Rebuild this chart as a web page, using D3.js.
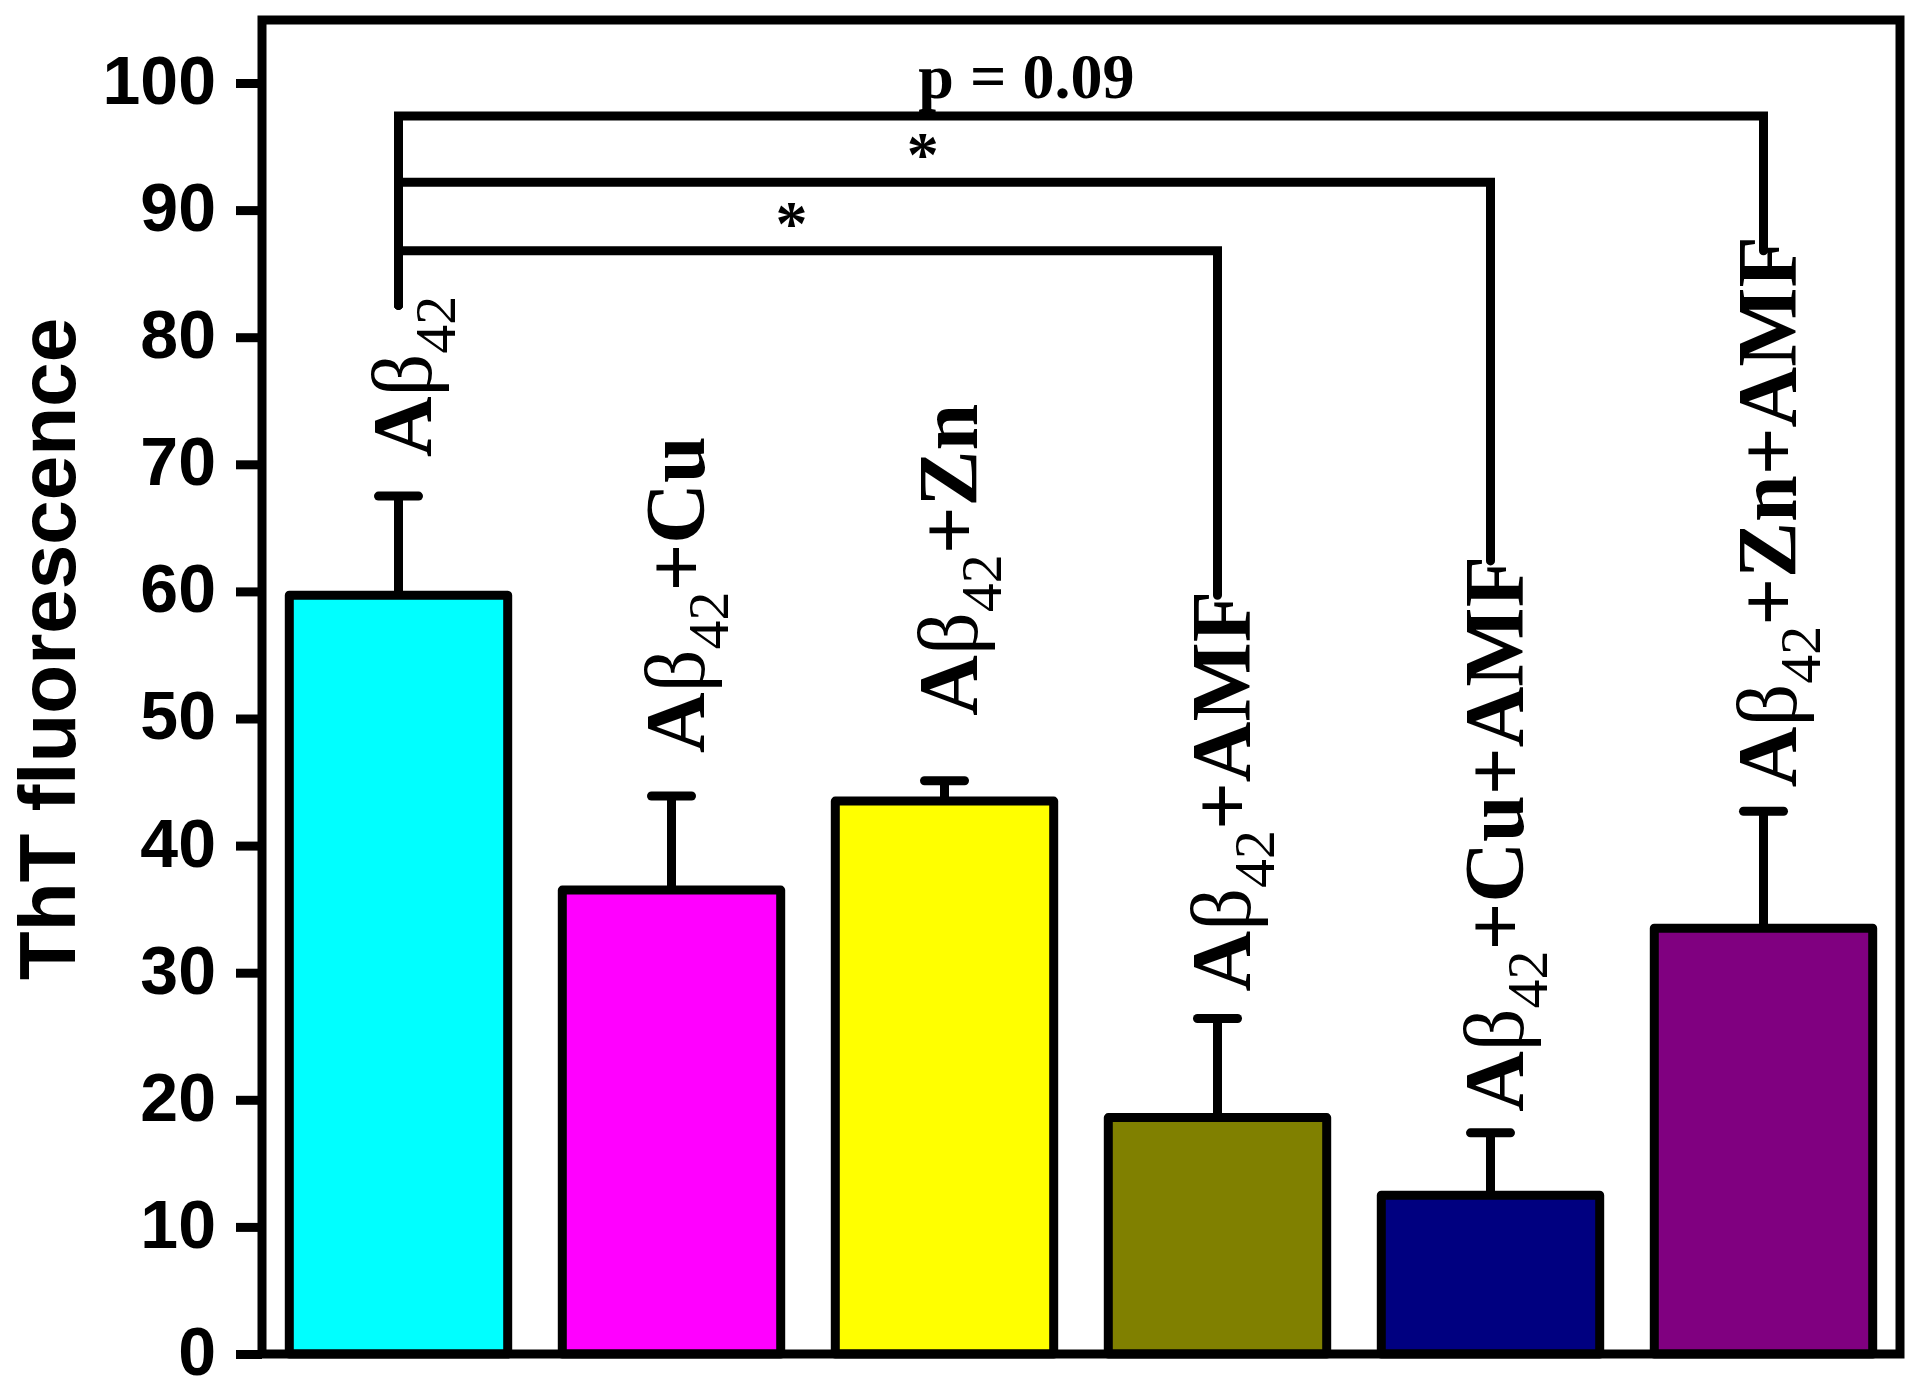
<!DOCTYPE html>
<html>
<head>
<meta charset="utf-8">
<script src="https://cdn.jsdelivr.net/npm/d3@7"></script>
<style>
  body { margin: 0; background: #fff; }
  svg { display: block; }
</style>
</head>
<body>
<script>
// data
var groups = ["Aβ42", "Aβ42+Cu", "Aβ42+Zn", "Aβ42+AMF", "Aβ42+Cu+AMF", "Aβ42+Zn+AMF"];
var means  = [59.7, 36.5, 43.5, 18.6, 12.5, 33.5];
var errors = [7.8, 7.4, 1.6, 7.8, 4.9, 9.2];
var colors = ["#00FFFF", "#FF00FF", "#FFFF00", "#808000", "#000080", "#800080"];
var yTicks = [0, 10, 20, 30, 40, 50, 60, 70, 80, 90, 100];

// significance brackets (values in y units)
var cmpFrom  = [0, 0, 0];
var cmpTo    = [3, 4, 5];
var cmpLevel = [86.8, 92.2, 97.4];
var cmpEnd   = [59.7, 62.4, 86.8];
var cmpText  = ["*", "*", "p = 0.09"];
var cmpStart = 82.5;

// layout (plot box in pixels)
var W = 1920, H = 1392;
var box = {left: 262, right: 1900, top: 20, bottom: 1354};
var lw = 9;
var labelGap = [39, 43, 65, 27, 21, 24];

var svg = d3.select("body").append("svg")
    .attr("width", W)
    .attr("height", H);

svg.append("rect").attr("width", W).attr("height", H).attr("fill", "#fff");

var x = d3.scaleBand()
    .domain(d3.range(groups.length))
    .range([box.left, box.right])
    .paddingInner(0.2)
    .paddingOuter(0.1);

var y = d3.scaleLinear()
    .domain([0, 100])
    .range([box.bottom, 83]);

var cx = function(i) { return x(i) + x.bandwidth() / 2; };

// bars
svg.selectAll(".bar")
    .data(means)
  .enter().append("rect")
    .attr("class", "bar")
    .attr("x", function(d, i) { return x(i); })
    .attr("y", function(d) { return y(d); })
    .attr("width", x.bandwidth())
    .attr("height", function(d) { return y(0) - y(d); })
    .attr("fill", function(d, i) { return colors[i]; })
    .attr("stroke", "#000")
    .attr("stroke-width", lw)
    .attr("stroke-linejoin", "round");

// error bars
var eb = svg.selectAll(".err")
    .data(means)
  .enter().append("g")
    .attr("class", "err")
    .attr("stroke", "#000")
    .attr("stroke-width", lw)
    .attr("stroke-linecap", "round");

eb.append("line")
    .attr("x1", function(d, i) { return cx(i); })
    .attr("x2", function(d, i) { return cx(i); })
    .attr("y1", function(d) { return y(d); })
    .attr("y2", function(d, i) { return y(d + errors[i]); })
    .attr("stroke-linecap", "butt");

eb.append("line")
    .attr("x1", function(d, i) { return cx(i) - 20; })
    .attr("x2", function(d, i) { return cx(i) + 20; })
    .attr("y1", function(d, i) { return y(d + errors[i]); })
    .attr("y2", function(d, i) { return y(d + errors[i]); });

// frame
svg.append("rect")
    .attr("x", box.left)
    .attr("y", box.top)
    .attr("width", box.right - box.left)
    .attr("height", box.bottom - box.top)
    .attr("fill", "none")
    .attr("stroke", "#000")
    .attr("stroke-width", lw);

// y axis
var yAxis = svg.append("g")
    .attr("transform", "translate(" + box.left + ",0)")
    .call(d3.axisLeft(y).tickValues(yTicks).tickSize(26).tickPadding(20).tickSizeOuter(0));

yAxis.select(".domain").remove();
yAxis.selectAll(".tick line")
    .attr("stroke", "#000")
    .attr("stroke-width", lw);
yAxis.selectAll(".tick text")
    .attr("fill", "#000")
    .attr("dy", "0.3em")
    .style("font-family", "'Liberation Sans', Arial, sans-serif")
    .style("font-weight", "bold")
    .style("font-size", "68px");

// y title
svg.append("text")
    .attr("transform", "translate(75,649) rotate(-90)")
    .attr("text-anchor", "middle")
    .style("font-family", "'Liberation Sans', Arial, sans-serif")
    .style("font-weight", "bold")
    .style("font-size", "80px")
    .text("ThT fluorescence");

// bar labels, rotated
var lab = svg.selectAll(".lab")
    .data(groups)
  .enter().append("text")
    .attr("class", "lab")
    .attr("transform", function(d, i) {
      return "translate(" + (cx(i) + 32) + "," + (y(means[i] + errors[i]) - labelGap[i]) + ") rotate(-90)";
    })
    .style("font-family", "'Liberation Serif', 'Times New Roman', serif")
    .style("font-size", "84px")
    .style("font-weight", "bold");

lab.append("tspan").text("A");
lab.append("tspan").style("font-weight", "normal").text("β");
lab.append("tspan").attr("dy", 24).style("font-weight", "normal").style("font-size", "58px").text("42");
lab.append("tspan").attr("dy", -24).text(function(d) { return d.slice(4); });

// significance brackets
var br = svg.selectAll(".cmp")
    .data(cmpLevel)
  .enter().append("g")
    .attr("class", "cmp");

br.append("path")
    .attr("d", function(d, i) {
      var x0 = cx(cmpFrom[i]), x1 = cx(cmpTo[i]);
      return "M" + x0 + "," + y(cmpStart) + "V" + y(d) + "H" + x1 + "V" + y(cmpEnd[i]);
    })
    .attr("fill", "none")
    .attr("stroke", "#000")
    .attr("stroke-width", lw)
    .attr("stroke-linecap", "round");

br.append("text")
    .attr("x", function(d, i) {
      var f = cmpText[i] == "*" ? 0.48 : 0.46;
      return cx(cmpFrom[i]) + f * (cx(cmpTo[i]) - cx(cmpFrom[i]));
    })
    .attr("y", function(d, i) { return cmpText[i] == "*" ? y(d) - 6 : y(d) - 18; })
    .attr("text-anchor", "middle")
    .style("font-family", "'Liberation Serif', 'Times New Roman', serif")
    .style("font-weight", "bold")
    .style("font-size", "64px")
    .text(function(d, i) { return cmpText[i]; });
</script>
</body>
</html>
